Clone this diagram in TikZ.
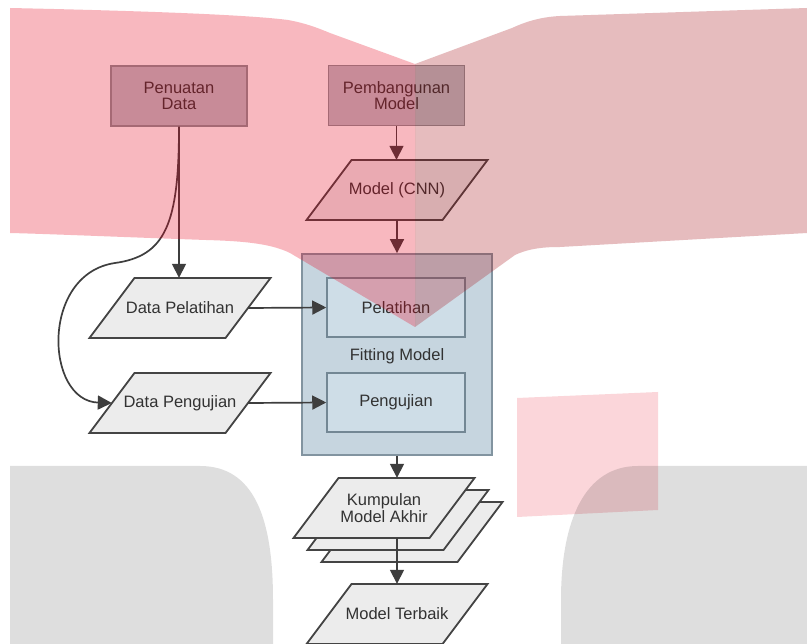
\documentclass[tikz,border=0pt]{standalone}
\usepackage{fontspec}
\setmainfont{Liberation Sans}
\usetikzlibrary{arrows.meta,calc}
\definecolor{txtc}{RGB}{50,50,50}
\definecolor{linec}{RGB}{62,62,62}
\definecolor{parfill}{RGB}{236,236,236}
\definecolor{paredge}{RGB}{68,68,68}
\definecolor{topfill}{RGB}{188,194,200}
\definecolor{topedge}{RGB}{140,146,150}
\definecolor{fitfill}{RGB}{198,213,223}
\definecolor{fitedge}{RGB}{130,148,160}
\definecolor{infill}{RGB}{206,221,231}
\definecolor{inedge}{RGB}{115,135,148}
\definecolor{wmL}{RGB}{232,0,28}
\definecolor{wmR}{RGB}{166,16,23}
\newcommand{\paral}[4]{%
  \path[pshape] (#2,#3) ++(-45.5,-30) -- ++(136,0) -- ++(-45,60) -- ++(-136,0) -- cycle;
  \node[pnode] (#1) at (#2,#3) {#4};}
\newcommand{\paralback}[2]{%
  \path[pshape] (#1,#2) ++(-45.5,-30) -- ++(136,0) -- ++(-45,60) -- ++(-136,0) -- cycle;}
\begin{document}
\begin{tikzpicture}[x=1pt,y=-1pt,
  txt/.style={font=\fontsize{16.5}{16.5}\selectfont, text=txtc, align=center},
  pnode/.style={txt, minimum width=136pt, minimum height=60pt, inner sep=0pt},
  pshape/.style={fill=parfill, draw=paredge, line width=1.8pt, line join=miter},
  topbox/.style={txt, fill=topfill, draw=topedge, line width=1.5pt, minimum width=136pt, minimum height=60pt, inner sep=0pt},
  fitbox/.style={fill=fitfill, draw=fitedge, line width=1.8pt, minimum width=190pt, minimum height=201pt, inner sep=0pt},
  inbox/.style={txt, fill=infill, draw=inedge, line width=1.5pt, minimum width=138pt, minimum height=59pt, inner sep=0pt},
  conn/.style={draw=linec, line width=1.7pt, -{Triangle[length=14pt,width=14pt]}},
  wm/.style={opacity=.28}
]
\useasboundingbox (0,0) rectangle (807,644);
\fill[white] (0,0) rectangle (807,644);

% top boxes
\node[topbox] (pen) at (179,96) {Penuatan\\Data};
\node[topbox] (pemb) at (396.5,95.5) {Pembangunan\\Model};

% fitting box
\node[fitbox] (fit) at (397,354.5) {};
\node[inbox] (pel) at (396,307.5) {Pelatihan};
\node[inbox] (peng) at (396,402.5) {Pengujian};
\node[txt] (fittitle) at (397,356) {Fitting Model};

% parallelograms
\paral{cnn}{397}{190}{Model (CNN)}
\paral{dpel}{180}{308}{Data Pelatihan}
\paral{dpeng}{180}{403}{Data Pengujian}
\paralback{412}{532}
\paralback{398}{520}
\paral{kump}{384}{508}{Kumpulan\\[1pt]Model Akhir}
\paral{terb}{397}{614}{Model Terbaik}

% connectors
\draw[conn] (pemb.south) -- (cnn.north -| pemb.south);
\draw[conn] (cnn.south) -- (fit.north);
\draw[conn] (pen.south) -- (pen.south |- dpel.north);
\draw[conn] (pen.south) .. controls (179,225) and (165,256) .. (115,263)
   .. controls (40,274) and (45,401) .. (dpeng.west);
\draw[conn] (dpel.east) -- (pel.west);
\draw[conn] (dpeng.east) -- (peng.west);
\draw[conn] (fit.south) -- (fit.south |- kump.north);
\draw[conn] (kump.south -| terb.north) -- (terb.north);

% watermark
\fill[wmL, wm] (10,8) .. controls (150,11) and (250,15) .. (288,20)
   .. controls (305,23) and (318,28) .. (330,33) -- (415,64) -- (415,327)
   -- (290,253) .. controls (270,243) and (240,241) .. (206,240)
   .. controls (120,237) and (50,234) .. (10,233) -- cycle;
\fill[wmR, wm] (807,8) -- (560,16) .. controls (540,17) and (525,22) .. (512,28)
   -- (415,64) -- (415,327) -- (515,255) .. controls (530,248) and (545,247) .. (560,247)
   -- (807,233) -- cycle;
\fill[wmL, opacity=.16] (517,398) -- (658,392) -- (658,510) -- (517,517) -- cycle;
\fill[black, opacity=.13] (10,466) -- (200,466) .. controls (255,466) and (273,520) .. (273,600)
   -- (273,644) -- (10,644) -- cycle;
\fill[black, opacity=.13] (807,466) -- (638,466) .. controls (585,466) and (561,520) .. (561,600)
   -- (561,644) -- (807,644) -- cycle;
\end{tikzpicture}
\end{document}
